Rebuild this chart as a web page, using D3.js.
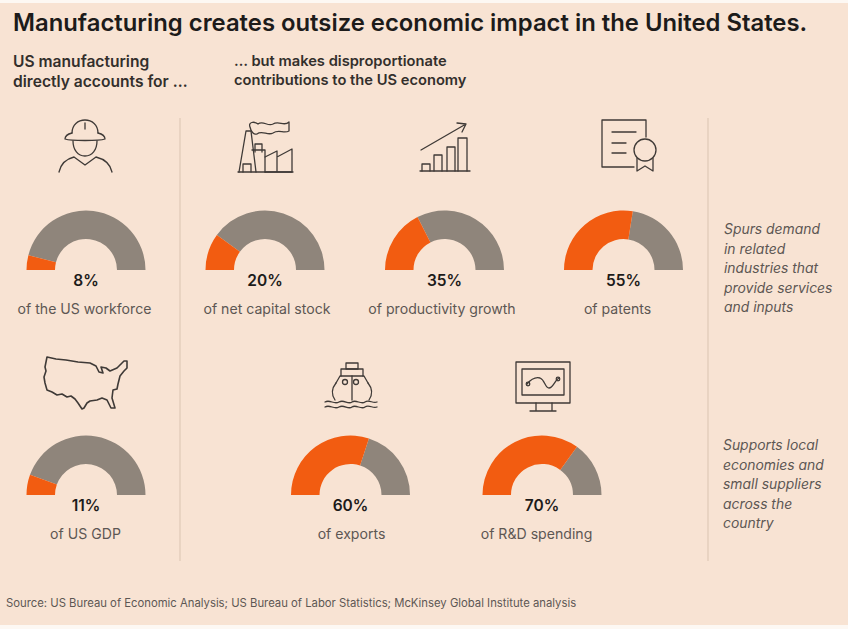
<!DOCTYPE html>
<html>
<head>
<meta charset="utf-8">
<script src="https://cdn.jsdelivr.net/npm/d3@7"></script>
<style>
  html, body { margin: 0; padding: 0; background: #fff; }
  svg { display: block; font-family: Inter, "Liberation Sans", sans-serif; }
</style>
</head>
<body>
<svg width="848" height="629"></svg>
<script>
var shares = [8, 20, 35, 55, 11, 60, 70];
var labels = ["of the US workforce", "of net capital stock", "of productivity growth", "of patents",
              "of US GDP", "of exports", "of R&D spending"];
var title = "Manufacturing creates outsize economic impact in the United States.";
var leftHead = ["US manufacturing", "directly accounts for \u2026"];
var midHead = ["\u2026 but makes disproportionate", "contributions to the US economy"];
var spurs = ["Spurs demand", "in related", "industries that", "provide services", "and inputs"];
var supports = ["Supports local", "economies and", "small suppliers", "across the", "country"];
var source = "Source: US Bureau of Economic Analysis; US Bureau of Labor Statistics; McKinsey Global Institute analysis";

var svg = d3.select("svg");
var bg = "#f8e3d3", orange = "#f25c11", grey = "#8f857b", ink = "#1d1b1a", soft = "#5d5753", icon = "#3f3a37";

svg.append("rect").attr("width", 848).attr("height", 629).attr("fill", "#fdf8f3");
svg.append("rect").attr("y", 3).attr("width", 848).attr("height", 622).attr("fill", bg);

function textLines(lines, x, y, step, size, weight, color, style) {
    svg.append("g").selectAll("text").data(lines).enter().append("text")
        .attr("x", x)
        .attr("y", function(d, i) { return y + i * step; })
        .attr("font-size", size)
        .attr("font-weight", weight)
        .attr("font-style", style || "normal")
        .attr("fill", color)
        .text(function(d) { return d; });
}

textLines([title], 13, 30.5, 0, 23.85, 600, ink);
textLines(leftHead, 13, 66.5, 20.5, 15.6, 600, "#332f2c");
textLines(midHead, 234, 65.5, 19.5, 14.7, 600, "#332f2c");
textLines(spurs, 724, 234, 19.5, 13.9, 400, soft, "italic");
textLines(supports, 723, 450, 19.5, 13.9, 400, soft, "italic");
textLines([source], 6, 607, 0, 11.3, 400, soft);

// dividers
svg.append("g").selectAll("line").data([180, 708]).enter().append("line")
    .attr("x1", function(d) { return d; })
    .attr("x2", function(d) { return d; })
    .attr("y1", 118).attr("y2", 561)
    .attr("stroke", "#dfc9b8").attr("stroke-width", 1.2);

// gauges
var centres = [[86, 270], [265, 270], [444.5, 270], [623.5, 270], [86, 495], [350.5, 495], [542, 495]];
var labelShift = [-1.5, 2, -2.5, -6, -0.5, 1, -5.5];
var angle = d3.scaleLinear().domain([0, 100]).range([-Math.PI / 2, Math.PI / 2]);
var arc = d3.arc().innerRadius(31).outerRadius(59.5);

var gauge = svg.append("g").selectAll("g").data(shares).enter().append("g")
    .attr("transform", function(d, i) { return "translate(" + centres[i][0] + "," + centres[i][1] + ")"; });

gauge.append("path")
    .attr("fill", grey)
    .attr("d", function(d) { return arc({startAngle: angle(d), endAngle: angle(100)}); });
gauge.append("path")
    .attr("fill", orange)
    .attr("d", function(d) { return arc({startAngle: angle(0), endAngle: angle(d)}); });
gauge.append("text")
    .attr("text-anchor", "middle").attr("y", 15.5)
    .attr("font-size", 15.5).attr("font-weight", 600).attr("fill", ink)
    .text(function(d) { return d + "%"; });
gauge.append("text")
    .attr("text-anchor", "middle").attr("y", 44)
    .attr("x", function(d, i) { return labelShift[i]; })
    .attr("font-size", 14.1).attr("fill", soft)
    .text(function(d, i) { return labels[i]; });

// icons
var icons = svg.append("g").attr("fill", "none").attr("stroke", icon)
    .attr("stroke-width", 1.3).attr("stroke-linejoin", "round").attr("stroke-linecap", "round");
function draw(d) { icons.append("path").attr("d", d); }

// worker
draw("M72,133C72,125 78,120 85,120C92,120 98,125 98,133");
draw("M72,133C68,134 65,136 65,139C71,141 99,141 105,139C105,136 102,134 98,133");
draw("M85,123V129");
draw("M73,141C73,150 78,156 85,156C92,156 97,150 97,141");
draw("M59,172C61,163 66,159 74,157L85,165L96,157C104,159 110,163 112,172");

// factory
draw("M238,172H293");
draw("M239,172L246,131H251L256,172");
draw("M243,172V164H251V172");
draw("M255,152V144H262V152");
draw("M252,150H265V172");
draw("M265,157L277,151V172M277,157L292,149V172M265,172H292");
draw("M250,127C248,122 254,121 258,124C263,120 268,127 273,124C279,120 284,127 289,122V131C284,134 279,129 273,133C268,136 262,130 257,134C254,135 251,132 250,127Z");

// productivity chart
draw("M420,171H470");
draw("M422,171V164H430V171M434,171V155H442V171M447,171V147H455V171M458,171V138H467V171");
draw("M421,150L466,124M457,123L466,124L462,132");

// certificate
draw("M634,167H602V120H646V137");
draw("M612,132H636M612,143H626M612,153H626");
icons.append("circle").attr("cx", 645).attr("cy", 150).attr("r", 11);
draw("M637,158V171L645,166L653,171V158");

// US map
icons.append("path").attr("stroke-width", 1.6)
    .attr("d", "M47,357L56,359L66,360L78,362L90,363L96,366L99,372L103,373L101,367L106,368L110,371L117,368L122,363L124,361L127,361L127,368L124,371L120,376L118,384L117,389L113,390L112,398L115,408L111,408L107,400L102,398L97,400L90,401L87,403L84,408L82,409L78,403L75,399L71,396L67,397L62,394L57,395L52,392L47,390L45,383L44,377L46,371L45,367Z");

// ship
draw("M346,363H358V369H346Z");
draw("M341,376V369H363V376");
draw("M336,383L340,376H364L368,383");
draw("M336,383C332,388 331,394 335,400M368,383C372,388 373,394 369,400");
draw("M352,376V400");
icons.append("circle").attr("cx", 345).attr("cy", 382).attr("r", 2.5);
icons.append("circle").attr("cx", 356).attr("cy", 382).attr("r", 2.5);
draw("M325,402C330,399 334,405 339,402C344,399 348,405 352,402C356,399 361,405 365,402C369,399 373,404 377,402");
draw("M325,407C330,404 334,410 339,407C344,404 348,410 352,407C356,404 361,410 365,407C369,404 373,409 377,407");

// monitor
draw("M516,362H570V403H516Z");
draw("M522,369H564V395H522Z");
draw("M536,403V410M552,403V410M530,411H556");
draw("M527,384C532,378 536,377 540,378C545,380 545,388 549,388C553,388 555,380 559,378");
icons.append("circle").attr("cx", 528).attr("cy", 384).attr("r", 1.8);
icons.append("circle").attr("cx", 558).attr("cy", 379).attr("r", 1.8);
</script>
</body>
</html>
